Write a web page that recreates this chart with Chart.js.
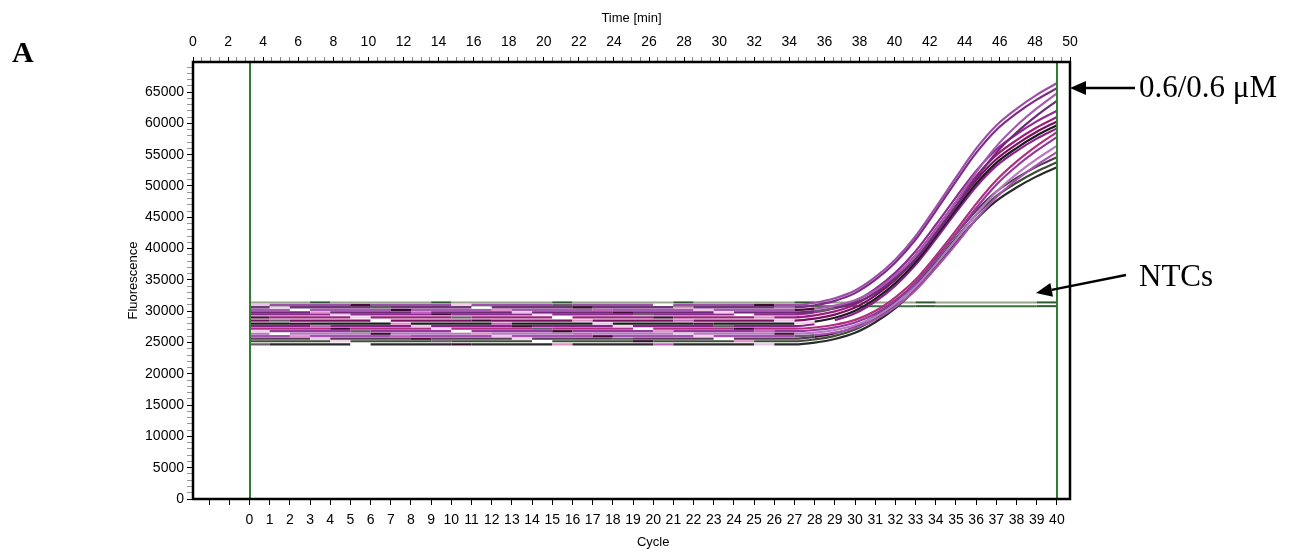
<!DOCTYPE html>
<html>
<head>
<meta charset="utf-8">
<script src="https://cdn.jsdelivr.net/npm/chart.js@4/dist/chart.umd.min.js"></script>
<style>
body{margin:0;background:#fff;}
#wrap{position:relative;width:1293px;height:553px;}
.lbl{position:absolute;font-family:"Liberation Serif","Times New Roman",serif;color:#000;white-space:nowrap;line-height:1;}
</style>
</head>
<body>
<div id="wrap">
<canvas id="qpcr" width="1293" height="553"></canvas>
<div class="lbl" style="left:12px;top:37px;font-size:30px;font-weight:bold;">A</div>
<div class="lbl" style="left:1139px;top:71px;font-size:31px;">0.6/0.6 μM</div>
<div class="lbl" style="left:1139px;top:260px;font-size:31px;">NTCs</div>
</div>
<script>
// cycle axis (bottom) and time axis (top)
const cycles = [0,1,2,3,4,5,6,7,8,9,10,11,12,13,14,15,16,17,18,19,20,21,22,23,24,25,26,27,28,29,30,31,32,33,34,35,36,37,38,39,40];
const riseStart = 27; // curves are flat (baseline) until this cycle
const timeMax = 50;
const markerCycles = [0, 40];

// fluorescence from cycle 27 to 40, one list per well (first value = flat baseline)
const well01 = [31000,31350,32060,33300,35430,38260,41970,46580,51360,55960,59670,62330,64560,66400];
const well02 = [30600,30950,31650,32880,34980,37780,41450,46000,50730,55280,58950,61580,63780,65600];
const well03 = [30200,30410,30890,31760,33310,35740,38850,43000,47500,52170,56320,59610,62380,64800];
const well04 = [29800,30000,30480,31320,32840,35210,38250,42310,46700,51260,55320,58530,61230,63600];
const well05 = [29500,29830,30480,31610,33560,36160,39580,43800,48190,52410,55830,58260,60310,62000];
const well06 = [29000,29320,29960,31080,33000,35560,38920,43080,47400,51560,54920,57320,59340,61000];
const well07 = [28500,28820,29450,30570,32480,35020,38360,42490,46790,50920,54260,56640,58650,60300];
const well08 = [28000,28320,28950,30060,31960,34500,37830,41950,46230,50350,53680,56050,58050,59700];
const well09 = [27600,27920,28550,29650,31550,34080,37400,41500,45770,49880,53200,55570,57560,59200];
const well10 = [27200,27390,27830,28610,30030,32220,35050,38820,42900,47140,50910,53890,56400,58600];
const well11 = [26800,26990,27420,28200,29590,31760,34550,38270,42300,46490,50210,53150,55630,57800];
const well12 = [26400,26580,27000,27750,29100,31200,33900,37500,41400,45450,49050,51900,54300,56400];
const well13 = [26000,26180,26590,27320,28650,30700,33350,36880,40700,44670,48200,50990,53340,55400];
const well14 = [25600,25890,26470,27490,29230,31550,34590,38360,42280,46050,49090,51270,53090,54600];
const well15 = [25200,25490,26060,27060,28780,31060,34070,37780,41650,45360,48370,50510,52310,53800];
const well16 = [24700,24980,25550,26540,28240,30500,33470,37150,40970,44650,47620,49750,51530,53000];
const ntcLevels = [31400, 30800];

const wells = [well01,well02,well03,well04,well05,well06,well07,well08,well09,well10,well11,well12,well13,well14,well15,well16];
const wellColors = ['#9b4fa8','#7d2d86','#a45bb0','#6e2a78','#8e2b8e','#9c1f7d','#7a1060','#1e1a1e',
                    '#8a2090','#b0307f','#943a9e','#b779c4','#a352ad','#5a3a5a','#3e4e36','#2b2b2b'];
const altColors = ['#e8c4ec','#3a0a30','#f2d0ea','#c060b8','#ffffff','#4a0a3a','#e090c8','#6b5a6b'];
const ntcColors = ['#98a48c','#3f6f3f'];

function wellSeries(vals) {
  return cycles.map(c => ({x: c, y: c < riseStart ? vals[0] : vals[c - riseStart]}));
}

const datasets = [];
wells.forEach((w, d) => {
  datasets.push({
    data: wellSeries(w),
    borderColor: wellColors[d],
    borderWidth: 2.2,
    pointRadius: 0,
    cubicInterpolationMode: 'monotone',
    segment: {
      borderColor: ctx => {
        const j = ctx.p0DataIndex;
        if (j < riseStart + 2 && (j * 7 + d * 3) % 5 === 0) return altColors[(j + d) % altColors.length];
        return undefined;
      }
    }
  });
});
ntcLevels.forEach((v, k) => {
  datasets.push({
    data: cycles.map(c => ({x: c, y: v})),
    borderColor: ntcColors[k],
    borderWidth: 2,
    pointRadius: 0,
    segment: {
      borderColor: ctx => (ctx.p0DataIndex % 6 === 3 ? '#2f5a2f' : undefined)
    }
  });
});

const tickFont = {family: '"Liberation Sans", Arial, sans-serif', size: 14};
const titleFont = {family: '"Liberation Sans", Arial, sans-serif', size: 13};

const framePlugin = {
  id: 'frame',
  afterDatasetsDraw(chart) {
    const {ctx, chartArea: a, scales} = chart;
    ctx.save();
    ctx.strokeStyle = '#2e7d32';
    ctx.lineWidth = 2;
    markerCycles.forEach(c => {
      const px = Math.round(scales.x.getPixelForValue(c));
      ctx.beginPath();
      ctx.moveTo(px, a.top);
      ctx.lineTo(px, a.bottom);
      ctx.stroke();
    });
    ctx.strokeStyle = '#000';
    ctx.lineWidth = 2.5;
    ctx.strokeRect(a.left, a.top, a.right - a.left, a.bottom - a.top);
    ctx.restore();
  },
  afterDraw(chart) {
    const {ctx, scales} = chart;
    ctx.save();
    ctx.fillStyle = '#000';
    ctx.font = '13px "Liberation Sans", Arial, sans-serif';
    ctx.textAlign = 'center';
    ctx.textBaseline = 'middle';
    ctx.fillText('Cycle', scales.x.getPixelForValue(20), 542);
    ctx.translate(133, (chart.chartArea.top + chart.chartArea.bottom) / 2);
    ctx.rotate(-Math.PI / 2);
    ctx.fillText('Fluorescence', 0, 0);
    ctx.restore();
    // annotation arrows
    drawArrow(ctx, 1135, 88, 1070, 88);
    drawArrow(ctx, 1126, 275, 1036, 293);
  }
};

function drawArrow(ctx, x1, y1, x2, y2) {
  const ang = Math.atan2(y2 - y1, x2 - x1);
  const hl = 16, hw = 7;
  const bx = x2 - hl * Math.cos(ang), by = y2 - hl * Math.sin(ang);
  ctx.save();
  ctx.strokeStyle = '#000';
  ctx.fillStyle = '#000';
  ctx.lineWidth = 2.5;
  ctx.beginPath();
  ctx.moveTo(x1, y1);
  ctx.lineTo(bx, by);
  ctx.stroke();
  ctx.beginPath();
  ctx.moveTo(x2, y2);
  ctx.lineTo(bx + hw * Math.sin(ang), by - hw * Math.cos(ang));
  ctx.lineTo(bx - hw * Math.sin(ang), by + hw * Math.cos(ang));
  ctx.closePath();
  ctx.fill();
  ctx.restore();
}

new Chart(document.getElementById('qpcr'), {
  type: 'line',
  data: {datasets: datasets},
  options: {
    responsive: false,
    animation: false,
    events: [],
    layout: {padding: {left: 120, right: 223, top: 0, bottom: 0}},
    plugins: {legend: {display: false}, tooltip: {enabled: false}},
    scales: {
      x: {
        type: 'linear',
        position: 'bottom',
        min: -2.8,
        max: 40.65,
        afterBuildTicks: s => { s.ticks = cycles.concat([-2, -1]).map(v => ({value: v})); },
        afterFit: s => { s.height = 54; },
        ticks: {
          autoSkip: false, maxRotation: 0, padding: 7, color: '#000', font: tickFont,
          callback: v => (v >= 0 ? String(v) : '')
        },
        grid: {drawOnChartArea: false, drawTicks: true, tickLength: 6, color: '#000', lineWidth: 1},
        border: {display: false}
      },
      x2: {
        type: 'linear',
        position: 'top',
        min: 0,
        max: timeMax,
        afterBuildTicks: s => {
          const t = [];
          for (let v = 0; v <= timeMax; v += 0.5) t.push({value: v});
          s.ticks = t;
        },
        afterFit: s => { s.height = 62; },
        ticks: {
          autoSkip: false, maxRotation: 0, padding: 6, color: '#000', font: tickFont,
          callback: v => (v % 2 === 0 ? String(v) : '')
        },
        grid: {
          drawOnChartArea: false, drawTicks: true, tickLength: 5, lineWidth: 1,
          tickColor: c => (c.tick && c.tick.value % 2 === 0 ? '#000' : '#888')
        },
        border: {display: false},
        title: {display: true, text: 'Time [min]', color: '#000', font: titleFont, padding: {top: 11, bottom: 0}}
      },
      y: {
        type: 'linear',
        min: 0,
        max: 69800,
        afterBuildTicks: s => {
          const t = [];
          for (let v = 0; v <= 69000; v += 1000) t.push({value: v});
          s.ticks = t;
        },
        afterFit: s => { s.width = 73; },
        ticks: {
          autoSkip: false, padding: 3, color: '#000', font: tickFont,
          callback: v => (v % 5000 === 0 ? String(v) : '')
        },
        grid: {
          drawOnChartArea: false, drawTicks: true, tickLength: 6, lineWidth: 1,
          tickColor: c => (c.tick && c.tick.value % 5000 === 0 ? '#000' : '#999')
        },
        border: {display: false}
      }
    }
  },
  plugins: [framePlugin]
});
</script>
</body>
</html>
